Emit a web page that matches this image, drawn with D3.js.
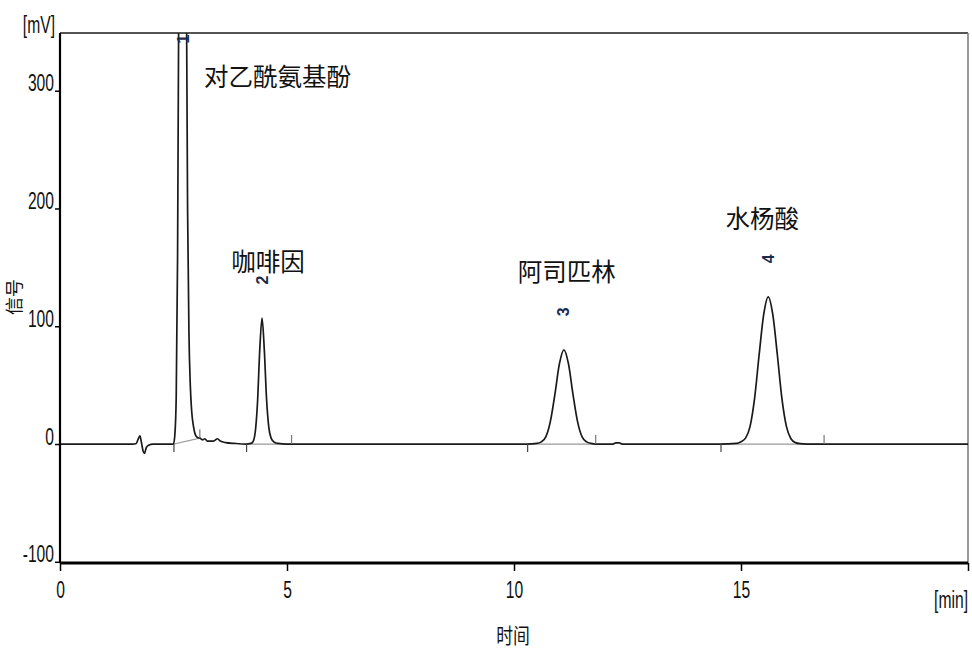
<!DOCTYPE html>
<html><head><meta charset="utf-8">
<script src="https://cdn.jsdelivr.net/npm/d3@7/dist/d3.min.js"></script>
<style>
html,body{margin:0;padding:0;background:#fff;}
svg{display:block;}
</style></head>
<body>
<svg id="chart" width="972" height="654"></svg>
<script>
// ---- data (time in min, signal in mV) ----
const traceTime = [0,1.60,1.68,1.72,1.76,1.79,1.83,1.86,1.90,1.95,2.05,2.50,2.53,2.56,2.59,2.62,2.66,2.70,2.74,2.78,2.81,2.84,2.87,2.90,2.94,2.98,3.03,3.08,3.14,3.19,3.25,3.38,3.47,3.53,3.65,3.85,4.10,4.20,4.25,4.30,4.35,4.40,4.45,4.50,4.55,4.60,4.65,4.72,4.80,5.00,10.30,10.50,10.60,10.70,10.80,10.90,11.00,11.10,11.20,11.30,11.40,11.50,11.60,11.70,11.80,12.18,12.24,12.32,12.38,14.55,14.90,15.00,15.10,15.20,15.30,15.40,15.50,15.60,15.70,15.80,15.90,16.00,16.10,16.20,16.30,16.45,16.80,20.00];
const traceValue = [0,0,0.5,4,7,2,-6,-8,-3,-1,0,0,8,40,160,420,800,950,800,420,200,95,50,28,15,8,5.5,5,3.5,4.5,2.5,2.5,4.5,2.5,1.2,0.5,0,0.5,2,10,35,80,107,80,38,14,5,1.5,0.5,0,0,0.5,1.8,6,19,42,68,80,68,42,19,6,1.8,0.5,0,0,1,1,0,0,0.5,2,5,15,39,76,110,125,110,76,39,15,4.5,1.2,0.3,0,0,0];

const peakNumbers = ["1","2","3","4"];
const peakTimes = [2.72, 4.45, 11.10, 15.60];
const peakApex = [950, 107, 80, 125];
const peakStart = [2.51, 4.11, 10.30, 14.56];
const peakEnd = [3.08, 5.10, 11.80, 16.83];
const peakEndValue = [5, 0, 0, 0];

const compoundNames = ["对乙酰氨基酚","咖啡因","阿司匹林","水杨酸"];
const nameTimes = [4.79, 4.58, 11.16, 15.47];
const nameValues = [313, 156, 147, 192];

const xTicks = [0,5,10,15,20];
const xTickLabels = ["0","5","10","15",""];
const yTicks = [-100,0,100,200,300];
const yTickLabels = ["-100","0","100","200","300"];
const xUnit = "[min]", yUnit = "[mV]";
const xTitle = "时间", yTitle = "信号";

// ---- layout ----
const svg = d3.select("#chart");
const L = 60, R = 968, T = 33, B = 563;
const x = d3.scaleLinear().domain([0,20]).range([L,R]);
const y = d3.scaleLinear().domain([-100,349]).range([561.8,T]);
const numFont = "'Liberation Sans', Arial, sans-serif";
const cjkFont = "'Noto Sans CJK SC', 'Noto Sans', sans-serif";
const NS = 23, SX = 0.68;

// clip
svg.append("clipPath").attr("id","clip").append("rect")
  .attr("x",L).attr("y",T).attr("width",R-L).attr("height",B-T);

// frame top & right
svg.append("line").attr("x1",L).attr("x2",R).attr("y1",T).attr("y2",T)
  .attr("stroke","#555").attr("stroke-width",2);
svg.append("line").attr("x1",R).attr("x2",R).attr("y1",T).attr("y2",B)
  .attr("stroke","#777").attr("stroke-width",1.5);

const plot = svg.append("g").attr("clip-path","url(#clip)");

// integration baselines
plot.selectAll("line.ib").data(peakStart).join("line").attr("class","ib")
  .attr("x1",(d)=>x(d)).attr("y1",y(0))
  .attr("x2",(d,i)=>x(peakEnd[i])).attr("y2",(d,i)=>y(peakEndValue[i]))
  .attr("stroke","#999").attr("stroke-width",1.2);

// trace
const pts = traceTime.map((t,i)=>[t,traceValue[i]]);
const line = d3.line().x(d=>x(d[0])).y(d=>y(d[1])).curve(d3.curveMonotoneX);
plot.append("path").datum(pts).attr("d",line)
  .attr("fill","none").attr("stroke","#1a1a1a").attr("stroke-width",1.7)
  .attr("stroke-linejoin","round");

// start / end markers
svg.selectAll("line.ps").data(peakStart).join("line").attr("class","ps")
  .attr("x1",d=>x(d)).attr("x2",d=>x(d)).attr("y1",y(0)).attr("y2",y(0)+8)
  .attr("stroke","#444").attr("stroke-width",1.2);
svg.selectAll("line.pe").data(peakEnd).join("line").attr("class","pe")
  .attr("x1",d=>x(d)).attr("x2",d=>x(d))
  .attr("y1",(d,i)=>y(peakEndValue[i])).attr("y2",(d,i)=>y(peakEndValue[i])-9)
  .attr("stroke","#777").attr("stroke-width",1.2);

// peak numbers (rotated)
svg.selectAll("text.pn").data(peakNumbers).join("text").attr("class","pn")
  .attr("transform",(d,i)=>{
    const yy = Math.max(y(peakApex[i]) - 38, T + 6);
    return `translate(${x(peakTimes[i])},${yy}) rotate(-90)`;
  })
  .attr("text-anchor","middle").attr("dominant-baseline","central")
  .attr("font-family",numFont).attr("font-size",16).attr("font-weight","bold")
  .attr("fill","#1c2a4a")
  .text(d=>d);

// compound names
svg.selectAll("text.cn").data(compoundNames).join("text").attr("class","cn")
  .attr("x",(d,i)=>x(nameTimes[i])).attr("y",(d,i)=>y(nameValues[i]))
  .attr("text-anchor","middle").attr("dominant-baseline","central")
  .attr("font-family",cjkFont).attr("font-size",24.5).attr("fill","#111")
  .text(d=>d);

// axes
const yAxis = d3.axisLeft(y).tickValues(yTicks).tickSize(5).tickSizeOuter(0)
  .tickFormat((d,i)=>yTickLabels[i]);
const gy = svg.append("g").attr("transform",`translate(${L},0)`).call(yAxis);
gy.select(".domain").attr("stroke","#000").attr("stroke-width",2.2)
  .attr("d",`M0,${T}V${B}`);
gy.selectAll(".tick line").attr("stroke","#000").attr("stroke-width",1.5);
gy.selectAll(".tick text").attr("x",null).attr("dy",null)
  .attr("transform",`translate(-6,0) scale(${SX},1)`)
  .attr("font-family",numFont).attr("font-size",NS).attr("fill","#111");

const xAxis = d3.axisBottom(x).tickValues(xTicks).tickSize(8).tickSizeOuter(0)
  .tickFormat((d,i)=>xTickLabels[i]);
const gx = svg.append("g").attr("transform",`translate(0,${B})`).call(xAxis);
gx.select(".domain").attr("stroke","#000").attr("stroke-width",3)
  .attr("d",`M${L},0H${R}`);
gx.selectAll(".tick line").attr("stroke","#000").attr("stroke-width",1.5);
gx.selectAll(".tick text").attr("y",null).attr("dy",null)
  .attr("transform",`translate(0,35) scale(${SX},1)`)
  .attr("font-family",numFont).attr("font-size",NS).attr("fill","#111");

// units
svg.append("text").attr("transform",`translate(55,33) scale(${SX},1)`)
  .attr("text-anchor","end").attr("font-family",numFont).attr("font-size",NS)
  .attr("fill","#111").text(yUnit);
svg.append("text").attr("transform",`translate(968,608) scale(${SX},1)`)
  .attr("text-anchor","end").attr("font-family",numFont).attr("font-size",NS)
  .attr("fill","#111").text(xUnit);

// titles
svg.append("text").attr("transform","translate(513,634) scale(0.8,1)")
  .attr("text-anchor","middle").attr("dominant-baseline","central")
  .attr("font-family",cjkFont).attr("font-size",21).attr("fill","#111").text(xTitle);
svg.append("text").attr("transform","translate(13,297) rotate(-90)")
  .attr("text-anchor","middle").attr("dominant-baseline","central")
  .attr("font-family",cjkFont).attr("font-size",18).attr("fill","#111").text(yTitle);
</script>
</body></html>
